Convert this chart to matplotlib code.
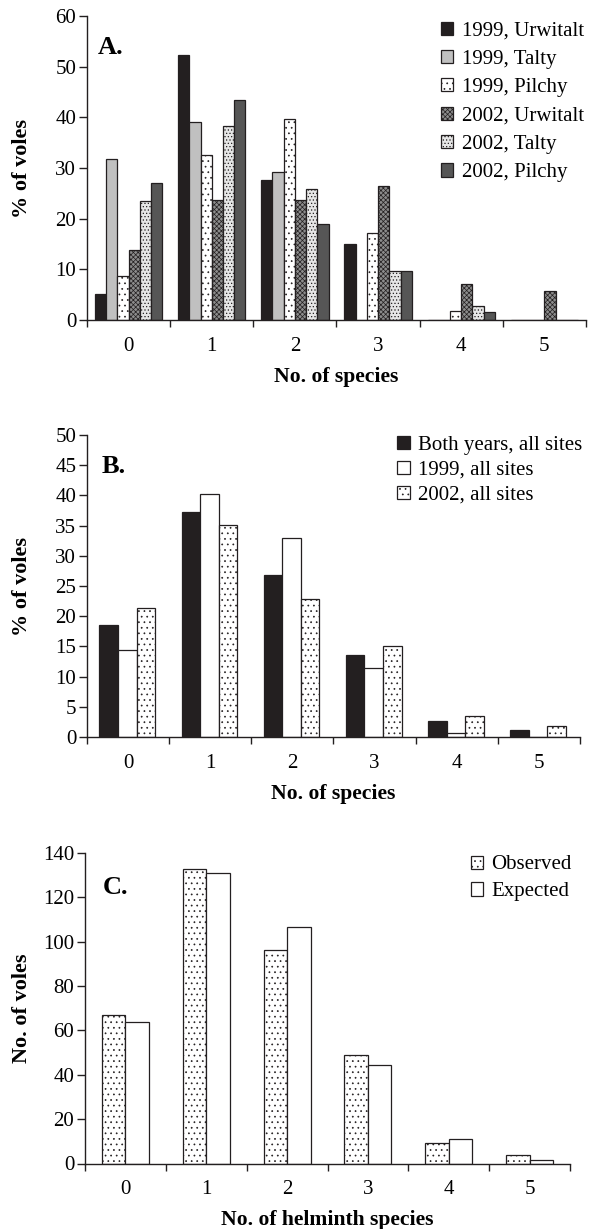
import matplotlib
matplotlib.use("Agg")
import matplotlib.pyplot as plt
import numpy as np

plt.rcParams['font.family'] = ['Liberation Serif', 'DejaVu Serif']
plt.rcParams['hatch.linewidth'] = 0.5

categories = [0, 1, 2, 3, 4, 5]

# Panel A
a_labels = ["1999, Urwitalt", "1999, Talty", "1999, Pilchy",
            "2002, Urwitalt", "2002, Talty", "2002, Pilchy"]
a_urw99 = [5.1, 52.4, 27.6, 15.0, 0, 0]
a_tal99 = [31.8, 39.1, 29.3, 0, 0, 0]
a_pil99 = [8.7, 32.6, 39.7, 17.2, 1.7, 0]
a_urw02 = [13.8, 23.7, 23.7, 26.4, 7.1, 5.7]
a_tal02 = [23.4, 38.3, 25.9, 9.6, 2.8, 0]
a_pil02 = [27.0, 43.4, 18.9, 9.6, 1.5, 0]

# Panel B
b_labels = ["Both years, all sites", "1999, all sites", "2002, all sites"]
b_both = [18.6, 37.2, 26.9, 13.6, 2.6, 1.2]
b_1999 = [14.4, 40.2, 33.0, 11.5, 0.7, 0]
b_2002 = [21.4, 35.1, 22.8, 15.0, 3.5, 1.9]

# Panel C
c_labels = ["Observed", "Expected"]
c_obs = [67.1, 132.9, 96.1, 48.9, 9.1, 3.9]
c_exp = [63.9, 131.0, 106.5, 44.6, 10.9, 1.5]

W, H = 589, 1229
fig = plt.figure(figsize=(W / 100, H / 100), dpi=100)
FS = 15

def px_axes(l, t, r, b):
    return fig.add_axes([l / W, 1 - b / H, (r - l) / W, (b - t) / H])

def style(ax, ymax, ystep, xlabel, ylabel, ylab_x):
    ax.set_xlim(-0.5, 5.5)
    ax.set_ylim(0, ymax)
    ax.set_yticks(np.arange(0, ymax + 0.1, ystep))
    ax.set_xticks(np.arange(-0.5, 5.6, 1.0))
    ax.set_xticklabels([])
    ax.set_xticks(categories, minor=True)
    ax.set_xticklabels([str(c) for c in categories], minor=True)
    ax.tick_params(axis='x', which='minor', length=0, pad=12, labelsize=FS)
    ax.tick_params(axis='x', which='major', direction='out', length=5, width=1,
                   color='#231f20')
    ax.tick_params(axis='y', direction='out', length=5.8, width=1, labelsize=FS,
                   pad=2, color='#231f20')
    for s in ['top', 'right']:
        ax.spines[s].set_visible(False)
    for s in ['left', 'bottom']:
        ax.spines[s].set_linewidth(1.0)
        ax.spines[s].set_color('#231f20')
    ax.set_xlabel(xlabel, fontsize=15.6, fontweight='bold', labelpad=8)
    ax.set_ylabel(ylabel, fontsize=16, fontweight='bold')
    ax.yaxis.set_label_coords(ylab_x, 0.5)

def legend(ax, x0, y0, ls):
    ax.legend(loc='upper left', bbox_to_anchor=(x0, y0), frameon=False,
              fontsize=FS, handlelength=0.6, handleheight=0.6,
              handletextpad=0.4, labelspacing=ls, borderpad=0, borderaxespad=0)

x = np.arange(len(categories))
ec = '#231f20'

# ---- Panel A
axA = px_axes(87, 16, 586, 320)
bw = 0.135
a_series = [a_urw99, a_tal99, a_pil99, a_urw02, a_tal02, a_pil02]
a_styles = [
    dict(facecolor='#231f20', hatch=None),
    dict(facecolor='#c0c0c0', hatch=None),
    dict(facecolor='white', hatch='...'),
    dict(facecolor='#8c8c8c', hatch='xxxxxxx'),
    dict(facecolor='#e6e6e6', hatch='.....'),
    dict(facecolor='#565656', hatch=None),
]
for i, (vals, st, lab) in enumerate(zip(a_series, a_styles, a_labels)):
    axA.bar(x + (i - 2.5) * bw, vals, width=bw, edgecolor=ec, linewidth=0.9,
            label=lab, **st)
style(axA, 60, 10, "No. of species", "% of voles", -0.110)
axA.text(0.022, 0.896, "A.", transform=axA.transAxes, fontsize=19,
         fontweight='bold', va='center', ha='left')
legend(axA, 0.709, 0.982, 0.45)

# ---- Panel B
axB = px_axes(87, 435, 580, 737)
bw = 0.226
b_series = [b_both, b_1999, b_2002]
b_styles = [
    dict(facecolor='#231f20', hatch=None),
    dict(facecolor='white', hatch=None),
    dict(facecolor='white', hatch='...'),
]
for i, (vals, st, lab) in enumerate(zip(b_series, b_styles, b_labels)):
    axB.bar(x + (i - 1) * bw - 0.01, vals, width=bw, edgecolor=ec, linewidth=0.9,
            label=lab, **st)
style(axB, 50, 5, "No. of species", "% of voles", -0.111)
axB.text(0.029, 0.895, "B.", transform=axB.transAxes, fontsize=19,
         fontweight='bold', va='center', ha='left')
legend(axB, 0.629, 0.997, 0.28)

# ---- Panel C
axC = px_axes(85, 853, 570, 1163.5)
bw = 0.29
c_series = [c_obs, c_exp]
c_styles = [
    dict(facecolor='white', hatch='...'),
    dict(facecolor='white', hatch=None),
]
for i, (vals, st, lab) in enumerate(zip(c_series, c_styles, c_labels)):
    axC.bar(x + (i - 0.5) * bw, vals, width=bw, edgecolor=ec, linewidth=0.9,
            label=lab, **st)
style(axC, 140, 20, "No. of helminth species", "No. of voles", -0.110)
axC.text(0.037, 0.889, "C.", transform=axC.transAxes, fontsize=19,
         fontweight='bold', va='center', ha='left')
legend(axC, 0.795, 0.992, 0.38)

fig.savefig("out.png", dpi=100)
